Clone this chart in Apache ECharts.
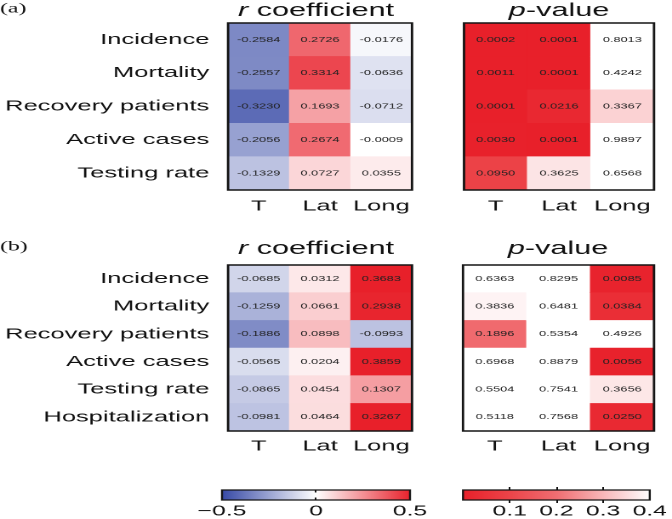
<!DOCTYPE html>
<html>
<head>
<meta charset="utf-8">
<script src="https://cdn.jsdelivr.net/npm/echarts@6/dist/echarts.min.js"></script>
<style>
  html, body { margin: 0; padding: 0; background: #fff; overflow: hidden; }
  #c { width: 395px; height: 519px; transform: scaleX(1.70127); transform-origin: 0 0; }
</style>
</head>
<body>
<div id="c"></div>
<script>
// ---------------- data ----------------
const cols = ['T', 'Lat', 'Long'];
const rowsA = ['Incidence', 'Mortality', 'Recovery patients', 'Active cases', 'Testing rate'];
const rowsB = ['Incidence', 'Mortality', 'Recovery patients', 'Active cases', 'Testing rate', 'Hospitalization'];

const rA_T    = [-0.2584, -0.2557, -0.3230, -0.2056, -0.1329];
const rA_Lat  = [0.2726, 0.3314, 0.1693, 0.2674, 0.0727];
const rA_Long = [-0.0176, -0.0636, -0.0712, -0.0009, 0.0355];
const pA_T    = [0.0002, 0.0011, 0.0001, 0.0030, 0.0950];
const pA_Lat  = [0.0001, 0.0001, 0.0216, 0.0001, 0.3625];
const pA_Long = [0.8013, 0.4242, 0.3367, 0.9897, 0.6568];

const rB_T    = [-0.0685, -0.1259, -0.1886, -0.0565, -0.0865, -0.0981];
const rB_Lat  = [0.0312, 0.0661, 0.0898, 0.0204, 0.0454, 0.0464];
const rB_Long = [0.3683, 0.2938, -0.0993, 0.3859, 0.1307, 0.3267];
const pB_T    = [0.6363, 0.3836, 0.1896, 0.6968, 0.5504, 0.5118];
const pB_Lat  = [0.8295, 0.6481, 0.5354, 0.8879, 0.7541, 0.7568];
const pB_Long = [0.0085, 0.0384, 0.4926, 0.0056, 0.3656, 0.0250];

const rTicks = [-0.5, 0, 0.5];
const pTicks = [0.1, 0.2, 0.3, 0.4];

// ---------------- styling ----------------
const S = 672 / 395;           // horizontal stretch of the reference figure
const X = v => v / S;          // convert reference px -> chart px (horizontal)
const FONT = "'Liberation Sans', Arial, Helvetica, sans-serif";
const blue = '#3548a5', white = '#ffffff', red = '#e8202a';
const rColors = [blue, white, red];
const pColors = [red, '#ec4449', '#f06e72', '#f8b8ba', white];

function cells(arrs) {
  const out = [];
  arrs.forEach((arr, ci) => arr.forEach((v, ri) => out.push([ci, ri, v])));
  return out;
}

const boxes = [
  { l: 222, r: 412, t: 23, b: 190 },   // r (a)
  { l: 464, r: 654, t: 23, b: 190 },   // p (a)
  { l: 222, r: 412, t: 265, b: 431 },  // r (b)
  { l: 463, r: 654, t: 265, b: 431 }   // p (b)
];
const grids = boxes.map(bx => ({
  show: true, z: 10, backgroundColor: 'transparent',
  borderColor: '#151515', borderWidth: 1.4,
  left: X(bx.l), top: bx.t, width: X(bx.r - bx.l), height: bx.b - bx.t
}));
grids.push({
  show: true, left: X(222), top: 490, width: X(188), height: 13,
  borderColor: '#151515', borderWidth: 1.2,
  backgroundColor: { type: 'linear', x: 0, y: 0, x2: 1, y2: 0,
    colorStops: rColors.map((c, i) => ({ offset: i / (rColors.length - 1), color: c })) }
});
grids.push({
  show: true, left: X(463), top: 490, width: X(191), height: 13,
  borderColor: '#151515', borderWidth: 1.2,
  backgroundColor: { type: 'linear', x: 0, y: 0, x2: 1, y2: 0,
    colorStops: pColors.map((c, i) => ({ offset: i / (pColors.length - 1), color: c })) }
});

const labelText = { fontFamily: FONT, fontSize: 15, color: '#111' };

const xAxes = [0, 1, 2, 3].map(i => ({
  type: 'category', data: cols, gridIndex: i, position: 'bottom',
  axisLine: { show: false }, axisTick: { show: false },
  axisLabel: Object.assign({ margin: i < 2 ? 9 : 8, interval: 0, hideOverlap: false }, labelText)
}));
const cbLabel = { fontFamily: FONT, fontSize: 14.5, color: '#111', margin: 4, hideOverlap: false };
xAxes.push({
  type: 'value', gridIndex: 4, position: 'bottom', min: rTicks[0], max: rTicks[2], interval: 0.5,
  axisLine: { show: false }, splitLine: { show: false },
  axisTick: { show: true, inside: true, length: 2.5, customValues: [0], lineStyle: { color: '#111', width: 1 } },
  axisLabel: Object.assign({ customValues: rTicks, formatter: v => (v < 0 ? '\u2212' + Math.abs(v) : String(v)) }, cbLabel),
  z: 5
});
xAxes.push({
  type: 'value', gridIndex: 4, position: 'top', min: rTicks[0], max: rTicks[2], interval: 0.5,
  axisLine: { show: false }, splitLine: { show: false }, axisLabel: { show: false },
  axisTick: { show: true, inside: true, length: 2.5, customValues: [0], lineStyle: { color: '#111', width: 1 } },
  z: 5
});
xAxes.push({
  type: 'value', gridIndex: 5, position: 'bottom', min: 0, max: pTicks[3], interval: 0.1,
  axisLine: { show: false }, splitLine: { show: false },
  axisTick: { show: true, inside: false, length: 3, customValues: pTicks.slice(0, 3), lineStyle: { color: '#111', width: 1 } },
  axisLabel: Object.assign({ customValues: pTicks, formatter: v => v.toFixed(1) }, cbLabel),
  z: 5
});
xAxes.push({
  type: 'value', gridIndex: 5, position: 'top', min: 0, max: pTicks[3], interval: 0.1,
  axisLine: { show: false }, splitLine: { show: false }, axisLabel: { show: false },
  axisTick: { show: true, inside: false, length: 3, customValues: pTicks.slice(0, 3), lineStyle: { color: '#111', width: 1 } },
  z: 5
});

const yAxes = [0, 1, 2, 3].map(i => ({
  type: 'category', data: i < 2 ? rowsA : rowsB, gridIndex: i, inverse: true,
  axisLine: { show: false }, axisTick: { show: false },
  axisLabel: Object.assign({ show: i % 2 === 0, margin: 11, interval: 0 }, labelText)
}));
yAxes.push({ type: 'value', gridIndex: 4, show: false });
yAxes.push({ type: 'value', gridIndex: 5, show: false });

const cellLabel = {
  show: true, fontFamily: FONT, fontSize: 7.5, color: '#222',
  formatter: p => p.value[2].toFixed(4)
};
const seriesData = [
  cells([rA_T, rA_Lat, rA_Long]),
  cells([pA_T, pA_Lat, pA_Long]),
  cells([rB_T, rB_Lat, rB_Long]),
  cells([pB_T, pB_Lat, pB_Long])
];
const series = seriesData.map((d, i) => ({
  type: 'heatmap', xAxisIndex: i, yAxisIndex: i, data: d,
  label: cellLabel, emphasis: { disabled: true }, silent: true
}));

const visualMap = [
  { show: false, seriesIndex: 0, dimension: 2, min: -0.4, max: 0.4, inRange: { color: rColors } },
  { show: false, seriesIndex: 1, dimension: 2, min: 0, max: 0.4, inRange: { color: pColors } },
  { show: false, seriesIndex: 2, dimension: 2, min: -0.3, max: 0.3, inRange: { color: rColors } },
  { show: false, seriesIndex: 3, dimension: 2, min: 0, max: 0.4, inRange: { color: pColors } }
];

function title(txt, cx, cy) {
  return {
    type: 'text', x: X(cx), y: cy, z: 20,
    style: {
      text: txt, align: 'center', verticalAlign: 'middle',
      font: "18px " + FONT, fill: '#111',
      rich: { i: { fontStyle: 'italic', fontSize: 18, fontFamily: FONT, fill: '#111' } }
    }
  };
}
function panel(txt, cy) {
  return {
    type: 'text', x: 0, y: cy, z: 20,
    style: { text: txt, align: 'left', verticalAlign: 'middle',
      font: "14px 'Liberation Serif', 'Times New Roman', serif", fill: '#111' }
  };
}

const option = {
  animation: false,
  backgroundColor: '#fff',
  grid: grids,
  xAxis: xAxes,
  yAxis: yAxes,
  visualMap: visualMap,
  series: series,
  graphic: [
    panel('(a)', 9),
    title('{i|r} coefficient', 316, 11),
    title('{i|p}-value', 559, 11),
    panel('(b)', 247),
    title('{i|r} coefficient', 316, 249),
    title('{i|p}-value', 558, 249)
  ]
};

const chart = echarts.init(document.getElementById('c'), null, { renderer: 'canvas', devicePixelRatio: 2 });
chart.setOption(option);
</script>
</body>
</html>
